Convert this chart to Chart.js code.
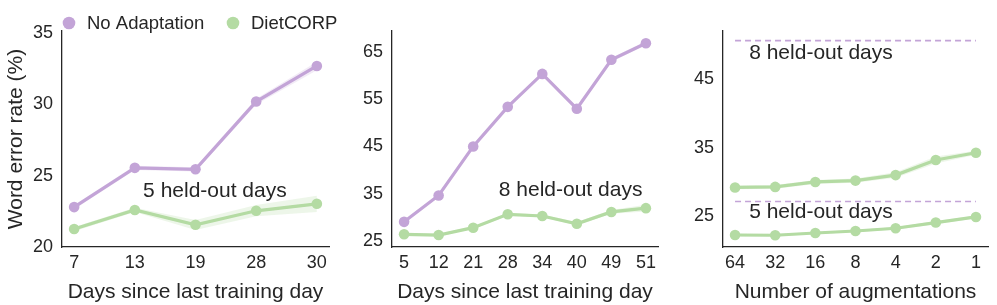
<!DOCTYPE html>
<html><head><meta charset="utf-8">
<script src="https://cdn.jsdelivr.net/npm/chart.js@4"></script>
<style>
html,body{margin:0;padding:0;background:#fff;}
#wrap{position:relative;width:997px;height:305px;overflow:hidden;background:#fff;}
canvas{position:absolute;top:0;}
</style></head><body>
<div id="wrap">
<canvas id="c1" width="340" height="305" style="left:0px"></canvas>
<canvas id="c2" width="330" height="305" style="left:340px"></canvas>
<canvas id="c3" width="327" height="305" style="left:670px"></canvas>
</div>
<script>
// ---------- data ----------
const days5 = ['7', '13', '19', '28', '30'];
const noAdapt5 = [22.8, 25.55, 25.45, 30.2, 32.7];
const noAdapt5Lo = [22.65, 25.4, 25.3, 30.0, 32.4];
const noAdapt5Hi = [22.95, 25.7, 25.6, 30.4, 33.0];
const diet5 = [21.26, 22.6, 21.56, 22.54, 23.03];
const diet5Lo = [21.1, 22.45, 21.2, 22.15, 22.45];
const diet5Hi = [21.4, 22.75, 21.9, 22.95, 23.6];

const days8 = ['5', '12', '21', '28', '34', '40', '49', '51'];
const noAdapt8 = [29.0, 34.6, 45.0, 53.4, 60.4, 53.0, 63.4, 66.9];
const noAdapt8Lo = [28.6, 34.2, 44.6, 53.0, 60.0, 52.6, 63.0, 66.5];
const noAdapt8Hi = [29.4, 35.0, 45.4, 53.8, 60.8, 53.4, 63.8, 67.3];
const diet8 = [26.35, 26.2, 27.76, 30.6, 30.24, 28.6, 31.1, 31.9];
const diet8Lo = [26.1, 25.95, 27.5, 30.3, 29.95, 28.25, 30.7, 31.2];
const diet8Hi = [26.6, 26.45, 28.0, 30.9, 30.55, 28.95, 31.5, 32.6];

const augments = ['64', '32', '16', '8', '4', '2', '1'];
const augDiet8 = [29.2, 29.28, 30.0, 30.2, 31.0, 33.2, 34.25];
const augDiet8Lo = [28.95, 29.0, 29.7, 29.9, 30.6, 32.7, 33.95];
const augDiet8Hi = [29.45, 29.55, 30.3, 30.5, 31.4, 33.7, 34.55];
const augDiet5 = [22.27, 22.23, 22.56, 22.85, 23.25, 24.08, 24.9];
const augDiet5Lo = [22.1, 22.05, 22.4, 22.7, 23.05, 23.85, 24.7];
const augDiet5Hi = [22.45, 22.4, 22.72, 23.0, 23.45, 24.3, 25.1];
const baseline8 = [50.6, 50.6];   // No Adaptation level, 8 held-out days
const baseline5 = [27.15, 27.15]; // No Adaptation level, 5 held-out days

const ticks1 = [20, 25, 30, 35];
const ticks2 = [25, 35, 45, 55, 65];
const ticks3 = [25, 35, 45];

// ---------- style ----------
const PURPLE = '#c3a4d7';
const GREEN = '#b4dba3';
const PURPLE_BAND = 'rgba(195,164,215,0.22)';
const GREEN_BAND = 'rgba(180,219,163,0.24)';
const INK = '#262626';
const FONT = '"Liberation Sans", Arial, sans-serif';

const pts = arr => arr.map((v, i) => ({x: i, y: v}));

function lineDs(label, arr, color) {
  return {label, data: pts(arr), borderColor: color, backgroundColor: color,
    borderWidth: 3.2, pointRadius: 5.3, pointHoverRadius: 5.3, pointBorderWidth: 0,
    pointBackgroundColor: color, fill: false, tension: 0, order: 0};
}
function bandDs(lo, hi, color) {
  return [
    {label: '_lo', data: pts(lo), borderWidth: 0, pointRadius: 0, fill: false, order: 2, borderColor: 'rgba(0,0,0,0)'},
    {label: '_hi', data: pts(hi), borderWidth: 0, pointRadius: 0, fill: '-1', backgroundColor: color, order: 2, borderColor: 'rgba(0,0,0,0)'}
  ];
}
function dashDs(arr, n) {
  return {label: '_base', data: [{x: 0, y: arr[0]}, {x: n - 1, y: arr[1]}], borderColor: PURPLE,
    borderWidth: 1.6, borderDash: [6, 4], pointRadius: 0, fill: false, order: 1};
}

const notesPlugin = {
  id: 'notes',
  afterDatasetsDraw(chart, args, opts) {
    const ctx = chart.ctx;
    ctx.save();
    ctx.font = '21px ' + FONT;
    ctx.fillStyle = INK;
    ctx.textAlign = 'center';
    ctx.textBaseline = 'middle';
    (opts.items || []).forEach(n => {
      ctx.fillText(n.text, chart.scales.x.getPixelForValue(n.x), chart.scales.y.getPixelForValue(n.y));
    });
    ctx.restore();
  }
};

const figLegend = {
  id: 'figLegend',
  afterDraw(chart, args, opts) {
    if (!opts.items) return;
    const ctx = chart.ctx;
    ctx.save();
    ctx.font = '18.5px ' + FONT;
    ctx.textBaseline = 'middle';
    ctx.textAlign = 'left';
    opts.items.forEach(it => {
      const ds = chart.data.datasets[it.ds];
      ctx.fillStyle = ds.borderColor;
      ctx.beginPath(); ctx.arc(it.x, opts.y, 6.3, 0, Math.PI * 2); ctx.fill();
      ctx.fillStyle = INK;
      ctx.fillText(ds.label, it.x + 18, opts.y + 1);
    });
    ctx.restore();
  }
};

function options(cfg) {
  const n = cfg.cats.length;
  const m = 0.05 * (n - 1);
  return {
    responsive: false, animation: false, devicePixelRatio: 1,
    layout: {padding: {top: 31, right: cfg.padRight, left: 0, bottom: 0}},
    plugins: {
      legend: {display: false}, tooltip: {enabled: false},
      notes: {items: cfg.notes},
      figLegend: cfg.legend || {}
    },
    scales: {
      x: {
        type: 'linear', min: -m, max: (n - 1) + m,
        afterBuildTicks: s => { s.ticks = cfg.cats.map((c, i) => ({value: i})); },
        afterFit: s => { s.height = 58; },
        ticks: {callback: v => cfg.cats[v], color: INK, font: {family: FONT, size: 18}, padding: 5, autoSkip: false, maxRotation: 0},
        grid: {display: false, drawTicks: false},
        border: {display: true, color: INK, width: 1.3},
        title: {display: true, text: cfg.xtitle, color: INK, font: {family: FONT, size: 21}, padding: {top: 6, bottom: 0}}
      },
      y: {
        min: cfg.ymin, max: cfg.ymax,
        afterBuildTicks: s => { s.ticks = cfg.yticks.map(v => ({value: v})); },
        afterFit: s => { s.width = cfg.yWidth; },
        ticks: {color: INK, font: {family: FONT, size: 18}, padding: 9},
        grid: {display: false, drawTicks: false},
        border: {display: true, color: INK, width: 1.3},
        title: {display: !!cfg.ytitle, text: cfg.ytitle || '', color: INK, font: {family: FONT, size: 21}, padding: {top: 4, bottom: 0}}
      }
    }
  };
}

// Panel 1
new Chart(document.getElementById('c1'), {
  type: 'line',
  data: {datasets: [
    lineDs('No Adaptation', noAdapt5, PURPLE),
    lineDs('DietCORP', diet5, GREEN),
    ...bandDs(noAdapt5Lo, noAdapt5Hi, PURPLE_BAND),
    ...bandDs(diet5Lo, diet5Hi, GREEN_BAND)
  ]},
  options: options({cats: days5, ymin: 20, ymax: 35.15, yticks: ticks1, yWidth: 62, padRight: 11,
    ytitle: 'Word error rate (%)', xtitle: 'Days since last training day',
    notes: [{text: '5 held-out days', x: 2.32, y: 23.92}],
    legend: {y: 23, items: [{ds: 0, x: 69}, {ds: 1, x: 233}]}}),
  plugins: [notesPlugin, figLegend]
});

// Panel 2
new Chart(document.getElementById('c2'), {
  type: 'line',
  data: {datasets: [
    lineDs('No Adaptation', noAdapt8, PURPLE),
    lineDs('DietCORP', diet8, GREEN),
    ...bandDs(noAdapt8Lo, noAdapt8Hi, PURPLE_BAND),
    ...bandDs(diet8Lo, diet8Hi, GREEN_BAND)
  ]},
  options: options({cats: days8, ymin: 23.66, ymax: 69.5, yticks: ticks2, yWidth: 52, padRight: 12,
    xtitle: 'Days since last training day',
    notes: [{text: '8 held-out days', x: 4.82, y: 35.7}]}),
  plugins: [notesPlugin]
});

// Panel 3
new Chart(document.getElementById('c3'), {
  type: 'line',
  data: {datasets: [
    lineDs('DietCORP (8 held-out days)', augDiet8, GREEN),
    lineDs('DietCORP (5 held-out days)', augDiet5, GREEN),
    dashDs(baseline8, augments.length),
    dashDs(baseline5, augments.length),
    ...bandDs(augDiet8Lo, augDiet8Hi, GREEN_BAND),
    ...bandDs(augDiet5Lo, augDiet5Hi, GREEN_BAND)
  ]},
  options: options({cats: augments, ymin: 20.52, ymax: 52.0, yticks: ticks3, yWidth: 53, padRight: 9,
    xtitle: 'Number of augmentations',
    notes: [{text: '8 held-out days', x: 2.14, y: 48.8}, {text: '5 held-out days', x: 2.14, y: 25.59}]}),
  plugins: [notesPlugin]
});
</script>
</body></html>
